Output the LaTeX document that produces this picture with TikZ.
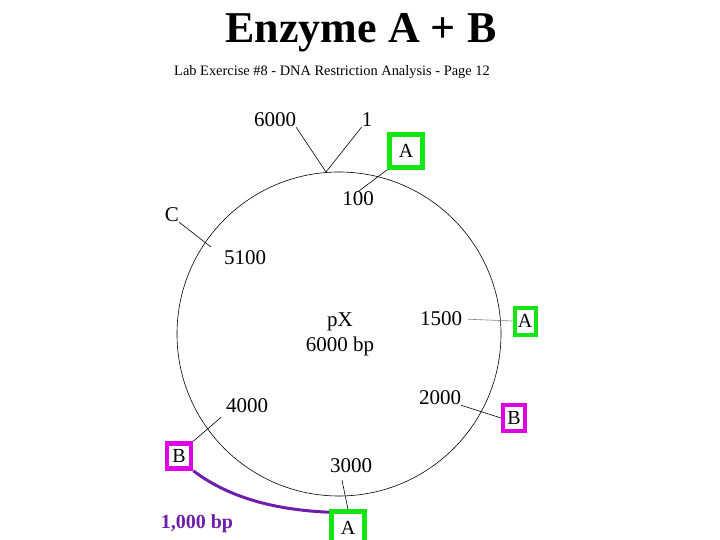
\documentclass[tikz,border=0pt]{standalone}
\usepackage{fontspec}
\setmainfont{Liberation Serif}
\definecolor{enzgreen}{RGB}{20,230,20}
\definecolor{enzpink}{RGB}{225,0,225}
\definecolor{fragpurple}{RGB}{110,30,170}
\tikzset{
  lbl/.style={font=\fontsize{21}{24}\selectfont,inner sep=0pt},
  siteA/.style={draw=enzgreen,line width=4.5pt,fill=white,font=\fontsize{20}{22}\selectfont,inner sep=0pt},
  siteB/.style={draw=enzpink,line width=4.5pt,fill=white,font=\fontsize{20}{22}\selectfont,inner sep=0pt},
  tick/.style={line width=.6pt}
}
\begin{document}
\begin{tikzpicture}[x=1pt,y=-1pt]
\useasboundingbox (0,0) rectangle (720,540);
\node[font=\bfseries\fontsize{44}{48}\selectfont] (title) at (361,33) {Enzyme A + B};
\node[font=\fontsize{14.4}{16}\selectfont] (sub) at (332,72) {Lab Exercise \#8 - DNA Restriction Analysis - Page 12};
\draw[line width=.6pt] (339,334) circle[radius=162];
\node[lbl,align=center] (pX) at (340,334) {pX\\[1pt]6000 bp};
\coordinate (tip) at (326,172);
\node[lbl] (n6000) at (275,120) {6000};
\node[lbl] (n1) at (367,120) {1};
\draw[tick] (n6000.south east) -- (tip) -- (n1.south west);
\node[siteA,minimum size=33] (A1) at (406,151) {A};
\node[lbl] (n100) at (358,199) {100};
\draw[tick] (A1.south west) -- (n100.north);
\node[lbl] (C) at (172,215) {C};
\coordinate (cC) at (211,247);
\draw[tick] (C.south east) -- (cC);
\node[lbl] (n5100) at (245,258) {5100};
\node[lbl] (n1500) at (441,319) {1500};
\node[siteA,line width=4pt,minimum width=21,minimum height=27] (A2) at (525,321) {A};
\draw[tick,gray,shorten <=6pt] (n1500.east) -- (A2.west);
\node[lbl] (n2000) at (440,398) {2000};
\node[siteB,line width=4pt,minimum width=22,minimum height=26] (B1) at (514,418) {B};
\draw[tick] (n2000.south east) -- (B1.west);
\node[lbl] (n4000) at (247,406) {4000};
\node[siteB,minimum width=24,minimum height=25] (B2) at (179,456) {B};
\draw[tick,shorten <=6pt] (n4000.south west) -- (B2.north east);
\node[lbl] (n3000) at (351,466) {3000};
\node[siteA,minimum width=33,minimum height=33] (A3) at (348,528) {A};
\draw[tick] ([shift={(-9,7)}]n3000.south) -- (A3.north);
\draw[fragpurple,line width=3pt] (B2.south east) .. controls (232,500) and (280,510) .. ([shift={(0,3)}]A3.north west);
\node[font=\bfseries\fontsize{20}{22}\selectfont,text=fragpurple] (frag) at (197,524) {1,000 bp};
\end{tikzpicture}
\end{document}
